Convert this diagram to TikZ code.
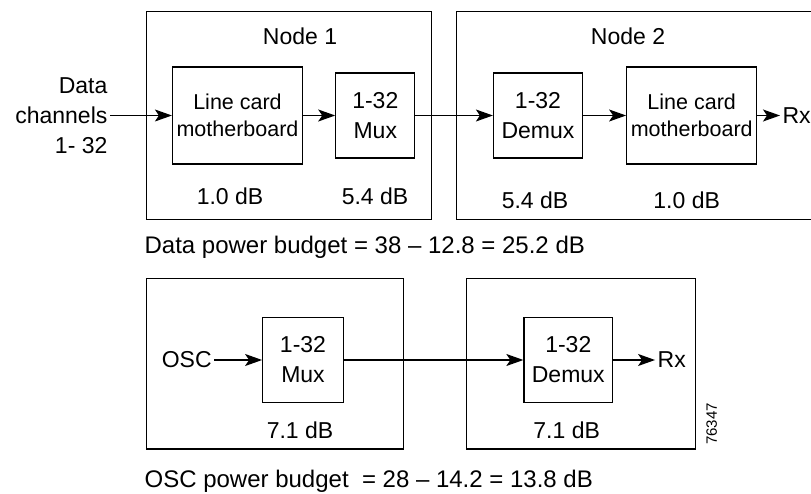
\documentclass[tikz,border=0pt]{standalone}
\usepackage{fontspec}
\setmainfont{Liberation Sans}
\usetikzlibrary{arrows.meta,positioning}

\begin{document}
\begin{tikzpicture}[x=1pt, y=-1pt, line width=1.2pt, >={Stealth[length=17pt,width=12pt,inset=4pt]}]
\tikzstyle{every node} = [inner sep=2pt, font=\fontsize{23}{30}\selectfont]
\tikzset{frame/.style={draw, rectangle, inner sep=0pt},
         unit/.style={draw, rectangle, inner sep=0pt, align=center, minimum height=85},
         card/.style={unit, minimum width=130, minimum height=97, font=\fontsize{21.5}{27}\selectfont},
         budget/.style={anchor=west, inner sep=0pt, font=\fontsize{24}{30}\selectfont}}
\useasboundingbox (0,0) rectangle (811,494);
\node[frame, minimum width=285, minimum height=208] (n1) at (289.2,115.6) {};
\node[frame, minimum width=380, minimum height=208] (n2) at (646.7,115.6) {};
\node (n1t) at (300,36.7) {Node 1};
\node (n2t) at (628,36.7) {Node 2};
\node[card] (lc1) at (237.5,115.5) {Line card\\motherboard};
\node[unit, minimum width=79] (mux1) at (375.3,115.5) {1-32\\Mux};
\node[unit, minimum width=89] (dmx1) at (538,115.5) {1-32\\Demux};
\node[card] (lc2) at (691.7,115.5) {Line card\\motherboard};
\node[align=right, anchor=east] (din) at (110,115.5) {Data\\channels\\1- 32};
\node[anchor=west] (rx1) at (780,115.5) {Rx};
\node (db1) at (230,196.7) {1.0 dB};
\node (db2) at (375,196.7) {5.4 dB};
\node (db3) at (535,200) {5.4 dB};
\node (db4) at (686.7,200) {1.0 dB};
\path[->] (din) edge (lc1)
(lc1) edge (mux1)
(mux1) edge (dmx1)
(dmx1) edge (lc2)
(lc2) edge (rx1);
\node[budget] (bud1) at (144,247) {Data power budget = 38 -- 12.8 = 25.2 dB};
\node[frame, minimum width=256.6, minimum height=170.7] (o1) at (275,363.7) {};
\node[frame, minimum width=229, minimum height=170.7] (o2) at (581.2,363.7) {};
\node (osc) at (186.7,360) {OSC};
\node[unit, minimum width=80.6] (mux2) at (303,360) {1-32\\Mux};
\node[unit, minimum width=88.7] (dmx2) at (568.3,360) {1-32\\Demux};
\node (rx2) at (671.7,360) {Rx};
\node (db5) at (300,430) {7.1 dB};
\node (db6) at (566.7,430) {7.1 dB};
\path[->] (osc) edge (mux2)
(mux2) edge (dmx2)
(dmx2) edge (rx2);
\node[budget] (bud2) at (144,481) {OSC power budget \ = 28 -- 14.2 = 13.8 dB};
\node[rotate=90, font=\fontsize{15}{18}\selectfont] (fig) at (711.7,424) {76347};
\end{tikzpicture}
\end{document}
